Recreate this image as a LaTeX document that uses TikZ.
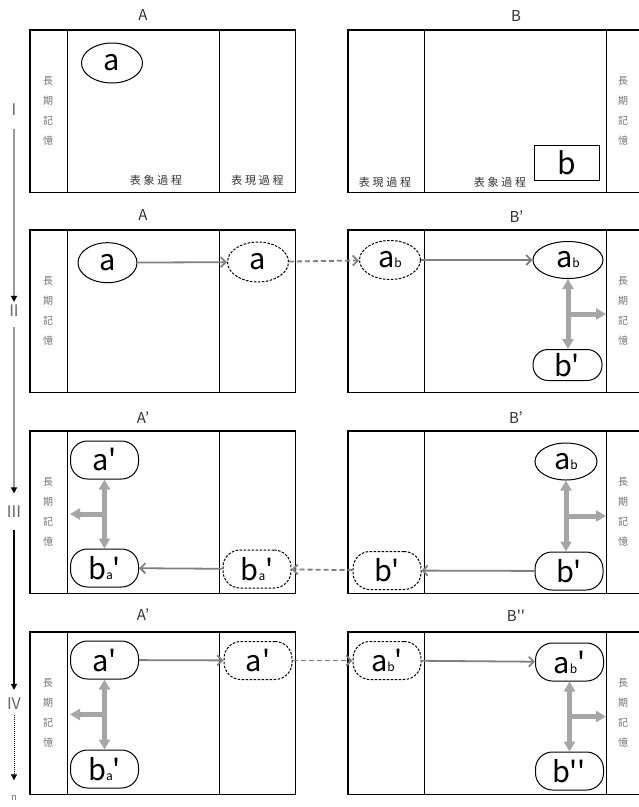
\documentclass[tikz,border=0pt]{standalone}
\usepackage{fontspec}
\newfontfamily\jp{Noto Sans CJK JP}
\usetikzlibrary{arrows.meta,shapes.geometric,calc}

\newcommand{\smallsub}[1]{{\fontsize{12}{12}\selectfont #1}}
\newcommand{\jsp}{\hspace{2.7pt}}

\begin{document}
\begin{tikzpicture}[
  x=1pt, y=-1pt,
  every node/.style={font=\jp},
  panel/.style={line width=1.2pt},
  mem/.style={ellipse, draw, line width=1pt, minimum width=61pt,
    minimum height=40pt, inner sep=0pt, font=\jp\fontsize{29}{29}\selectfont},
  memr/.style={rectangle, rounded corners=17pt, draw, line width=1pt,
    minimum width=68pt, minimum height=38pt, inner sep=0pt,
    font=\jp\fontsize{29}{29}\selectfont},
  tmp/.style={dash pattern=on 2.5pt off 1.5pt},
  tmpflow/.style={dash pattern=on 5pt off 3pt},
  flow/.style={draw=gray, line width=1.8pt, -{Straight Barb[length=5pt,width=10pt]}},
  fat/.style={draw=gray!70, line width=5pt,
    {Triangle[length=10pt,width=11pt]}-{Triangle[length=10pt,width=11pt]}},
  fatone/.style={draw=gray!70, line width=5pt, -{Triangle[length=10pt,width=11pt]}},
  ltm/.style={align=center, text=gray!90!black, inner sep=0pt,
    font=\jp\fontsize{10}{20}\selectfont},
  proc/.style={text=black!80, inner sep=0pt, font=\jp\fontsize{11}{11}\selectfont},
  hd/.style={text=black!80, inner sep=0pt, font=\jp\fontsize{15}{15}\selectfont},
  tnum/.style={text=gray!80!black, inner sep=0pt, font=\jp\fontsize{16}{16}\selectfont},
  tline/.style={line width=1.3pt, -{Triangle[black,length=6pt,width=6pt]}}
]
\useasboundingbox (0,0) rectangle (639,807);

% パネル（A 側・B 側）
\foreach \t in {30,230,431,632}{
  \draw[panel] (30,\t) rectangle (295.5,\t+162.5);
  \draw (67,\t) -- (67,\t+162.5);
  \draw (219,\t) -- (219,\t+162.5);
  \draw[panel] (639,\t) -- (348,\t) -- (348,\t+162.5) -- (639,\t+162.5);
  \draw (424,\t) -- (424,\t+162.5);
  \draw (606,\t) -- (606,\t+162.5);
  \node[ltm] (ltmL\t) at (48,\t+81) {長\\期\\記\\憶};
  \node[ltm] (ltmR\t) at (623,\t+81) {長\\期\\記\\憶};
}
\coordinate (dL) at (67,0);
\coordinate (dR) at (606,0);

% 見出し
\node[hd] (hA1) at (143,15) {A};
\node[hd] (hB1) at (516,16) {B};
\node[hd] (hA2) at (143,215) {A};
\node[hd] (hB2) at (516.5,217) {B’};
\node[hd] (hA3) at (143,418) {A’};
\node[hd] (hB3) at (516,418) {B’};
\node[hd] (hA4) at (143,615) {A’};
\node[hd] (hB4) at (516,616) {B''};

% 時間軸
\node[tnum] (tI) at (14,110) {I};
\node[tnum] (tII) at (14,311) {II};
\node[tnum] (tIII) at (14,511.5) {III};
\node[tnum] (tIV) at (14,704) {IV};
\node[inner sep=0pt, text=gray!80!black, font=\jp\fontsize{9}{9}\selectfont] (tn) at (14,798) {n};
\draw[tline, gray!80, shorten <=13pt, shorten >=3pt] (tI) -- (tII);
\draw[tline, gray!80, shorten <=10pt, shorten >=12pt] (tII) -- (tIII);
\draw[tline, shorten <=12pt, shorten >=8pt] (tIII) -- (tIV);
\draw[tline, line width=1pt, densely dotted, shorten <=5pt, shorten >=15pt] (tIV) -- (tn);

% I
\node[mem] (a1) at (112,63) {a};
\node[draw, line width=1pt, minimum width=65pt, minimum height=35pt, inner sep=0pt,
  font=\jp\fontsize{30}{30}\selectfont] (b1) at (566.5,162.5) {b};
\node[proc] (pA1) at (156,180) {表\jsp 象\jsp 過\jsp 程};
\node[proc] (qA1) at (257.5,180) {表\jsp 現\jsp 過\jsp 程};
\node[proc] (qB1) at (385,182) {表\jsp 現\jsp 過\jsp 程};
\node[proc] (pB1) at (500,182) {表\jsp 象\jsp 過\jsp 程};

% II
\node[mem, minimum width=59pt] (a2) at (107.5,262.7) {a};
\node[mem, tmp] (ad2) at (258,262) {a};
\node[mem, tmp, minimum height=39pt] (abd2) at (390,260) {a\smallsub{b}};
\node[mem, minimum width=70pt, minimum height=37pt] (ab2) at (568,260) {a\smallsub{b}};
\node[memr, minimum width=69pt, minimum height=31pt, rounded corners=15pt] (bp2) at (567.5,365) {b'};
\draw[flow] (a2) -- (ad2);
\draw[flow, tmpflow] (ad2) -- (abd2);
\draw[flow] (abd2) -- (ab2);
\draw[fat] (ab2.south) -- (ab2.south |- bp2.north);
\coordinate (m2) at ($(ab2.south)!.5!(ab2.south |- bp2.north)$);
\draw[fatone] (m2) -- (m2 -| dR);

% III
\node[memr] (ap3) at (104.5,460) {a'};
\node[memr] (bap3) at (104.5,568) {b\smallsub{a}'};
\node[memr, tmp] (bad3) at (257,569) {b\smallsub{a}'};
\node[memr, tmp] (bpd3) at (387,570.5) {b'};
\node[memr] (bp3) at (569,571) {b'};
\node[mem, minimum width=62pt, minimum height=37pt] (ab3) at (566,461.5) {a\smallsub{b}};
\draw[flow] (bp3) -- (bpd3);
\draw[flow, tmpflow] (bpd3) -- (bad3);
\draw[flow] (bad3) -- (bap3);
\draw[fat] (ap3.south) -- (ap3.south |- bap3.north);
\coordinate (m3L) at ($(ap3.south)!.5!(ap3.south |- bap3.north)$);
\draw[fatone, shorten >=3pt] (m3L) -- (m3L -| dL);
\draw[fat] (ab3.south) -- (ab3.south |- bp3.north);
\coordinate (m3R) at ($(ab3.south)!.5!(ab3.south |- bp3.north)$);
\draw[fatone] (m3R) -- (m3R -| dR);

% IV
\node[memr] (ap4) at (104.5,660) {a'};
\node[memr] (bap4) at (104.5,769) {b\smallsub{a}'};
\node[memr, tmp] (apd4) at (258,660.5) {a'};
\node[memr, tmp] (abpd4) at (387,660.5) {a\smallsub{b}'};
\node[memr] (abp4) at (569.5,662) {a\smallsub{b}'};
\node[memr] (bpp4) at (569.5,771) {b''};
\draw[flow] (ap4) -- (apd4);
\draw[flow, tmpflow] (apd4) -- (abpd4);
\draw[flow] (abpd4) -- (abp4);
\draw[fat] (ap4.south) -- (ap4.south |- bap4.north);
\coordinate (m4L) at ($(ap4.south)!.5!(ap4.south |- bap4.north)$);
\draw[fatone, shorten >=3pt] (m4L) -- (m4L -| dL);
\draw[fat] (abp4.south) -- (abp4.south |- bpp4.north);
\coordinate (m4R) at ($(abp4.south)!.5!(abp4.south |- bpp4.north)$);
\draw[fatone] (m4R) -- (m4R -| dR);

\end{tikzpicture}
\end{document}
